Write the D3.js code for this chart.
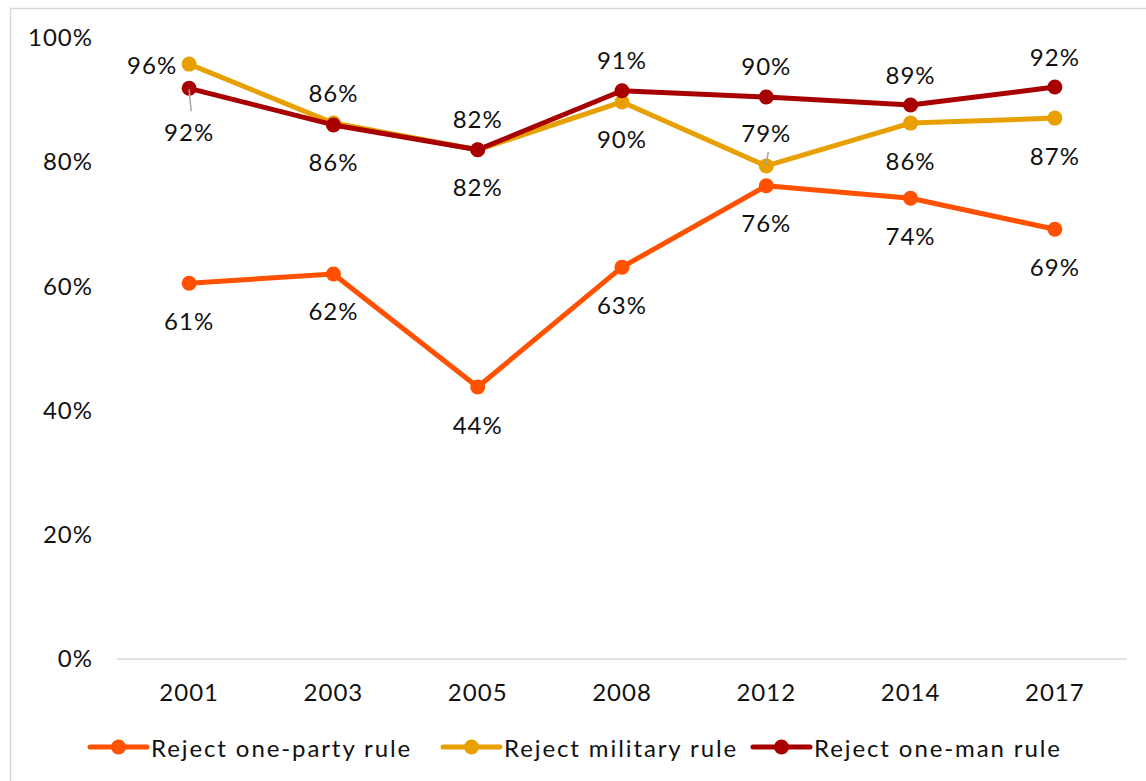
<!DOCTYPE html>
<html>
<head>
<meta charset="utf-8">
<script src="https://cdn.jsdelivr.net/npm/d3@7"></script>
<style>
  html, body { margin: 0; padding: 0; background: #fff; }
  text { font-family: Lato, "Open Sans", sans-serif; fill: #111; }
</style>
</head>
<body>
<svg id="chart" width="1146" height="781"></svg>
<script>
const years = ["2001", "2003", "2005", "2008", "2012", "2014", "2017"];
const oneParty = [60.5, 62.0, 43.8, 63.1, 76.2, 74.2, 69.2];
const military = [95.8, 86.3, 82.0, 89.7, 79.4, 86.3, 87.1];
const oneMan = [91.9, 86.0, 82.0, 91.5, 90.5, 89.2, 92.1];
const onePartyLabels = ["61%", "62%", "44%", "63%", "76%", "74%", "69%"];
const militaryLabels = ["96%", "86%", "82%", "90%", "79%", "86%", "87%"];
const oneManLabels = ["92%", "86%", "82%", "91%", "90%", "89%", "92%"];
const onePartyPlace = ["below", "below", "below", "below", "below", "below", "below"];
const militaryPlace = ["left", "above", "above", "below", "above", "below", "below"];
const oneManPlace = ["below", "below", "below", "above", "above", "above", "above"];
const yTicks = [0, 20, 40, 60, 80, 100];
const seriesNames = ["Reject one-party rule", "Reject military rule", "Reject one-man rule"];
const seriesColors = ["#FF5100", "#E8A000", "#A80000"];

(function () {
const series = [
  {name: seriesNames[0], color: seriesColors[0], values: oneParty, labels: onePartyLabels, place: onePartyPlace},
  {name: seriesNames[1], color: seriesColors[1], values: military, labels: militaryLabels, place: militaryPlace},
  {name: seriesNames[2], color: seriesColors[2], values: oneMan, labels: oneManLabels, place: oneManPlace}
];

const svg = d3.select("#chart");
const W = 1146, H = 781;
const mLeft = 117, mRight = 1127, mTop = 38, mBottom = 659;
const FS = 24, LS = 1;

svg.append("rect").attr("x", 10.5).attr("y", 8.5).attr("width", W + 20).attr("height", H + 20)
  .attr("fill", "none").attr("stroke", "#d9d9d9").attr("stroke-width", 1.5);

const x = d3.scaleBand().domain(years).range([mLeft, mRight]).padding(0);
const y = d3.scaleLinear().domain([0, 100]).range([mBottom, mTop]);
const cx = d => x(d) + x.bandwidth() / 2;

svg.append("line").attr("x1", mLeft).attr("x2", mRight).attr("y1", y(0)).attr("y2", y(0))
  .attr("stroke", "#d9d9d9").attr("stroke-width", 1.5);

const yAxis = d3.axisLeft(y).tickValues(yTicks).tickFormat(d => d + "%").tickSize(0).tickPadding(0);
const gy = svg.append("g").attr("transform", "translate(93,0)").call(yAxis);
gy.select(".domain").remove();
gy.selectAll("text").attr("font-size", FS).attr("font-family", "Lato, sans-serif").attr("fill", "#111")
  .attr("letter-spacing", LS);

const xAxis = d3.axisBottom(x).tickSize(0).tickPadding(0);
const gx = svg.append("g").attr("transform", `translate(0,${y(0) + 33.5})`).call(xAxis);
gx.select(".domain").remove();
gx.selectAll("text").attr("font-size", FS).attr("font-family", "Lato, sans-serif").attr("fill", "#111")
  .attr("y", 0).attr("dy", "0.35em").attr("letter-spacing", LS);

const line = d3.line().x((d, i) => cx(years[i])).y(d => y(d));

series.forEach(s => {
  svg.append("path").datum(s.values).attr("d", line)
    .attr("fill", "none").attr("stroke", s.color).attr("stroke-width", 5).attr("stroke-linejoin", "round");
  svg.selectAll(null).data(s.values).enter().append("circle")
    .attr("cx", (d, i) => cx(years[i])).attr("cy", d => y(d)).attr("r", 7.5).attr("fill", s.color);
});

function leader(yearIdx, val, dy1, dy2, dx) {
  const px = cx(years[yearIdx]), py = y(val);
  svg.append("line").attr("x1", px).attr("y1", py + dy1).attr("x2", px + dx).attr("y2", py + dy2)
    .attr("stroke", "#a6a6a6").attr("stroke-width", 1.5);
}
leader(0, oneMan[0], 1, 23, 2);
leader(4, military[4], -2, -14, 2);

series.forEach((s, si) => {
  s.values.forEach((v, i) => {
    const px = cx(years[i]), py = y(v);
    let tx = px, ty = py, anchor = "middle";
    if (s.place[i] === "below") ty = py + 37;
    else if (s.place[i] === "above") ty = py - 31;
    else if (s.place[i] === "left") { tx = px - 12; anchor = "end"; }
    if (si === 2 && i === 0) ty = py + 43;
    if (si === 1 && i === 4) ty = py - 33;
    svg.append("text").attr("x", tx).attr("y", ty).attr("text-anchor", anchor)
      .attr("dominant-baseline", "central").attr("font-size", FS).attr("letter-spacing", LS)
      .text(s.labels[i]);
  });
});

const legendX = [90, 443, 753];
const legendY = 747;
series.forEach((s, i) => {
  const g = svg.append("g").attr("transform", `translate(${legendX[i]},${legendY})`);
  g.append("line").attr("x1", 0).attr("x2", 57).attr("y1", 0).attr("y2", 0)
    .attr("stroke", s.color).attr("stroke-width", 5).attr("stroke-linecap", "round");
  g.append("circle").attr("cx", 28.5).attr("cy", 0).attr("r", 7.5).attr("fill", s.color);
  g.append("text").attr("x", 61).attr("y", 0).attr("dominant-baseline", "central")
    .attr("font-size", FS).attr("letter-spacing", 1.9).text(s.name);
});
})();
</script>
</body>
</html>
